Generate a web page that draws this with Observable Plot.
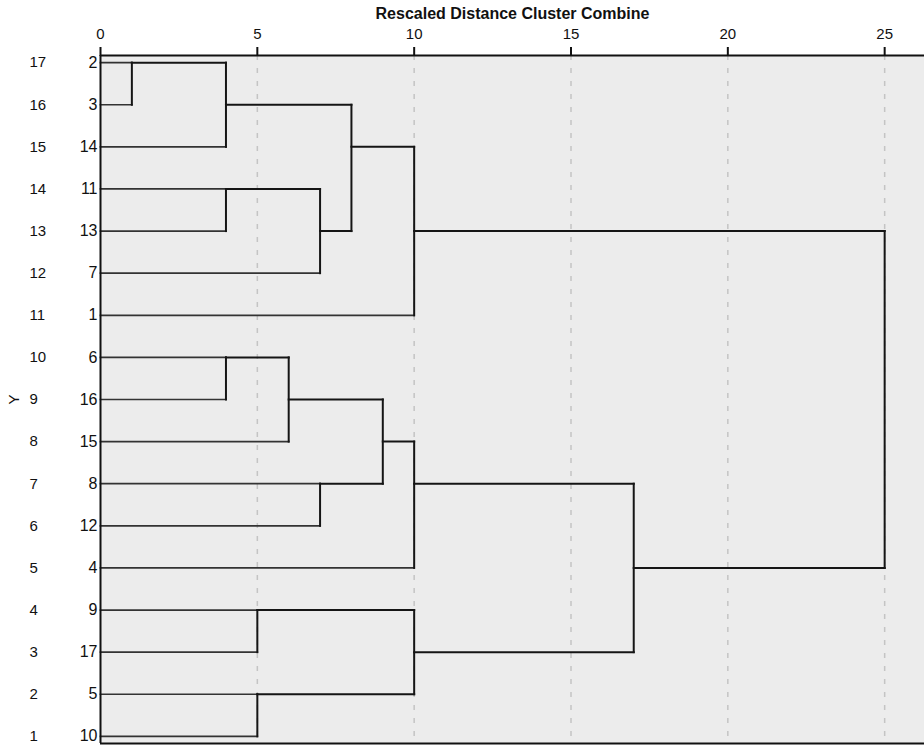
<!DOCTYPE html>
<html>
<head>
<meta charset="utf-8">
<script src="https://cdn.jsdelivr.net/npm/d3@7"></script>
<script src="https://cdn.jsdelivr.net/npm/@observablehq/plot@0.6"></script>
<style>
  html, body { margin: 0; padding: 0; background: #ffffff; }
  #chart svg { display: block; }
</style>
</head>
<body>
<div id="chart"></div>
<script>
// ---- data ----
const xTicks = [0, 5, 10, 15, 20, 25];
const rowNumbers = [17, 16, 15, 14, 13, 12, 11, 10, 9, 8, 7, 6, 5, 4, 3, 2, 1];
const caseLabels = ["2", "3", "14", "11", "13", "7", "1", "6", "16", "15", "8", "12", "4", "9", "17", "5", "10"];
// agglomeration steps (rescaled distance)
const mergeId    = ["A", "B", "C", "D", "E", "F", "G", "H", "I", "J", "K", "L", "M", "N", "O", "P"];
const mergeLeft  = ["2", "A", "11", "6", "9", "5", "D", "C", "8", "B", "G", "J", "K", "E", "M", "L"];
const mergeRight = ["3", "14", "13", "16", "17", "10", "15", "7", "12", "H", "I", "1", "4", "F", "N", "O"];
const mergeDist  = [1, 4, 4, 4, 5, 5, 6, 7, 7, 8, 9, 10, 10, 10, 17, 25];

// ---- build dendrogram segments ----
const nodes = new Map();
caseLabels.forEach((c, i) => nodes.set(c, {x: 0, row: rowNumbers[i], leaf: true}));
const segs = [];
mergeId.forEach((id, i) => {
  const a = nodes.get(mergeLeft[i]), b = nodes.get(mergeRight[i]), d = mergeDist[i];
  segs.push({x1: a.x, x2: d, y1: a.row, y2: a.row, leaf: a.leaf});
  segs.push({x1: b.x, x2: d, y1: b.row, y2: b.row, leaf: b.leaf});
  segs.push({x1: d, x2: d, y1: a.row, y2: b.row, leaf: false});
  nodes.set(id, {x: d, row: Math.ceil((a.row + b.row) / 2), leaf: false});
});
const leaves = caseLabels.map((c, i) => ({label: c, row: rowNumbers[i]}));

const yDomain = [0.83, 17.17];
const xDomain = [0, 26.27];

const chart = Plot.plot({
  width: 924,
  height: 749,
  marginLeft: 100,
  marginRight: 0,
  marginTop: 55,
  marginBottom: 6,
  style: {fontFamily: "'Liberation Sans', Arial, sans-serif", fontSize: "15px", color: "#111", background: "#ffffff"},
  x: {domain: xDomain},
  y: {domain: yDomain},
  marks: [
    Plot.frame({fill: "#ececec", stroke: "none"}),
    Plot.ruleX(xTicks.filter(t => t > 0), {stroke: "#c4c4c4", strokeWidth: 1.5, strokeDasharray: "5,8"}),
    Plot.axisX({anchor: "top", ticks: xTicks, tickSize: 9, tickPadding: 8, strokeWidth: 2, fontSize: 15, label: null}),
    Plot.axisY({anchor: "left", ticks: rowNumbers, tickSize: 0, tickPadding: 71, textAnchor: "start", fontSize: 15,
      label: "Y", labelAnchor: "center", labelOffset: 92, labelArrow: "none"}),
    Plot.text(leaves, {x: () => 0, y: "row", text: "label", dx: -3, textAnchor: "end", fontSize: 16, fill: "#111"}),
    Plot.link(segs.filter(s => s.leaf), {x1: "x1", y1: "y1", x2: "x2", y2: "y2", stroke: "#333", strokeWidth: 1.7, strokeLinecap: "square"}),
    Plot.link(segs.filter(s => !s.leaf), {x1: "x1", y1: "y1", x2: "x2", y2: "y2", stroke: "#151515", strokeWidth: 2, strokeLinecap: "square"}),
    Plot.ruleY([yDomain[1]], {stroke: "#111", strokeWidth: 2}),
    Plot.ruleY([yDomain[0]], {stroke: "#111", strokeWidth: 2}),
    Plot.ruleX([0], {stroke: "#111", strokeWidth: 2}),
    Plot.text(["Rescaled Distance Cluster Combine"], {frameAnchor: "top", dy: -48, text: d => d, fontWeight: "bold", fontSize: 16, fill: "#111"})
  ]
});
document.getElementById("chart").appendChild(chart);
</script>
</body>
</html>
